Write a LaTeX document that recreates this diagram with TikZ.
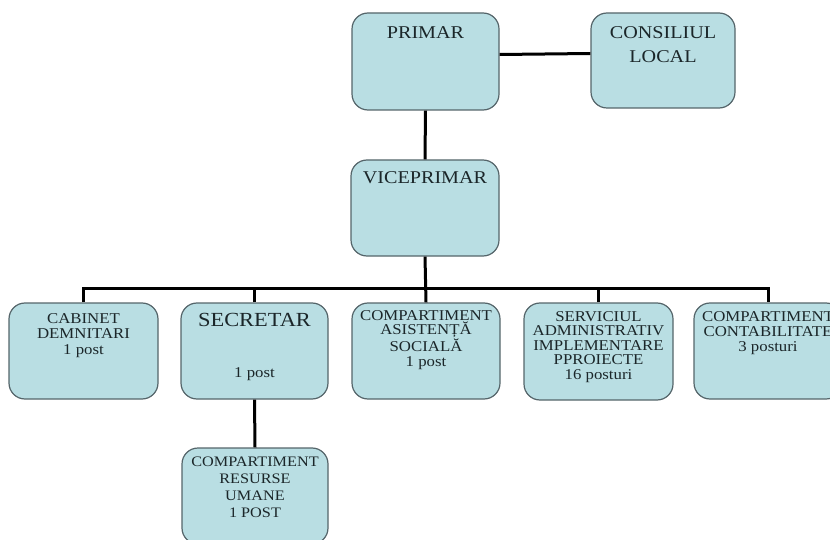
\documentclass[tikz,border=0pt]{standalone}
\usepackage{fontspec}
\setmainfont{Liberation Serif}[FakeStretch=1.12]
\definecolor{boxfill}{HTML}{B9DEE3}
\definecolor{boxline}{HTML}{55656A}
\definecolor{txtcol}{HTML}{1B2629}
\begin{document}
\begin{tikzpicture}[x=1pt,y=-1pt,
  box/.style={draw=boxline, line width=1.2pt, fill=boxfill, rounded corners=16pt,
    inner sep=0pt, minimum width=148pt, minimum height=96pt},
  txt/.style={anchor=north, inner sep=0pt, align=center, text=txtcol,
    font=\fontsize{15}{15.2}\selectfont},
  bigtxt/.style={txt, font=\fontsize{18}{24}\selectfont},
  conn/.style={line width=3pt, black}]
\useasboundingbox (0,0) rectangle (830,540);
\clip (0,0) rectangle (830,540);
% boxes
\node[box, minimum width=147pt, minimum height=97pt] (primar) at (425.5,61.5) {};
\node[box, minimum width=144pt, minimum height=95pt] (consil) at (663,60.5) {};
\node[box] (vice) at (425,208) {};
\node[box, minimum width=149pt] (cabinet) at (83.5,351) {};
\node[box, minimum width=147pt] (secretar) at (254.5,351) {};
\node[box] (asist) at (426,351) {};
\node[box, minimum width=149pt, minimum height=97pt] (serv) at (598.5,351.5) {};
\node[box] (contab) at (768,351) {};
\node[box, minimum width=146pt] (ru) at (255,496) {};
% connectors
\draw[conn] ([yshift=7pt]primar.east) -- ([yshift=7pt]consil.west);
\draw[conn] (primar.south) -- (vice.north);
\draw[conn] (vice.south) -- (asist.north);
\draw[conn] (cabinet.north) |- ([yshift=14pt]contab.north) -- (contab.north);
\draw[conn] (secretar.north) -- ++(0,-14);
\draw[conn] (serv.north) -- ++(0,-14);
\draw[conn] (secretar.south) -- (ru.north);
% texts
\node[bigtxt] (primarT) at (425.5,26) {PRIMAR};
\node[bigtxt] (consilT) at (663,26) {CONSILIUL\\LOCAL};
\node[bigtxt] (viceT) at (425,171.5) {VICEPRIMAR};
\node[txt, font=\fontsize{15}{15.5}\selectfont] (cabT) at (83.5,313) {CABINET\\DEMNITARI\\1 post};
\node[txt, font=\fontsize{20}{24}\selectfont] (secT) at (254.5,313.5) {SECRETAR};
\node[txt, anchor=base] (secP) at (254.5,377) {1 post};
\node[txt, font=\fontsize{15}{14.6}\selectfont] (asistT) at (426,310) {COMPARTIMENT\\ASISTENȚĂ\\SOCIALĂ\\1 post};
\node[txt, font=\fontsize{15}{14.6}\selectfont] (servT) at (598.5,311) {SERVICIUL\\ADMINISTRATIV\\IMPLEMENTARE\\PPROIECTE\\16 posturi};
\node[txt] (contabT) at (768,311) {COMPARTIMENT\\CONTABILITATE\\3 posturi};
\node[txt, font=\fontsize{14.5}{17}\selectfont] (ruT) at (255,457) {COMPARTIMENT\\RESURSE\\UMANE\\1 POST};
\end{tikzpicture}
\end{document}
